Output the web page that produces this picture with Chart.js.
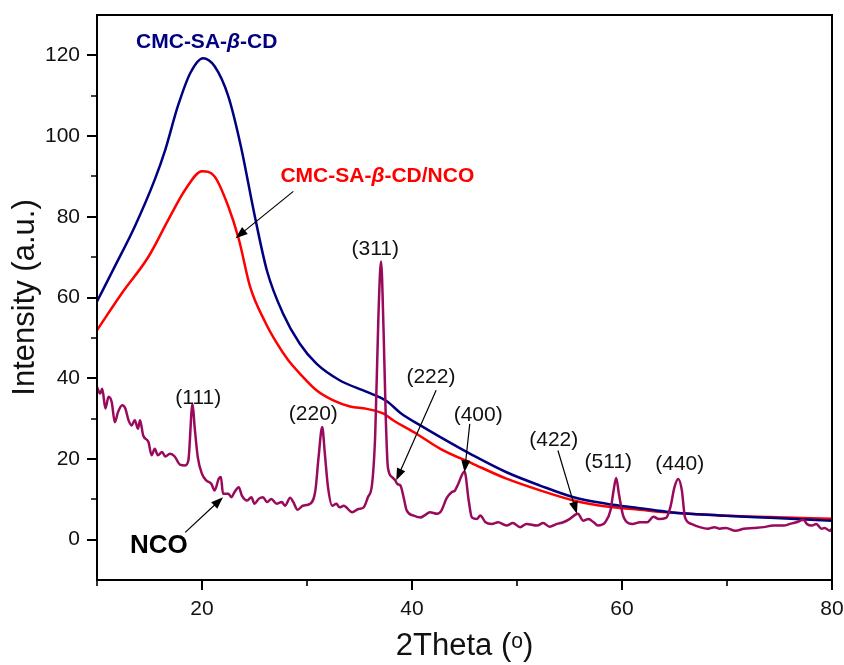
<!DOCTYPE html>
<html>
<head>
<meta charset="utf-8">
<script src="https://cdn.jsdelivr.net/npm/chart.js@4.4.0/dist/chart.umd.min.js"></script>
<style>
    html, body { margin: 0; padding: 0; background: #fff; }
    #wrap { width: 844px; height: 665px; }
</style>
</head>
<body>
<div id="wrap"><canvas id="xrdChart" width="844" height="665"></canvas></div>
<script>
// XRD patterns (2Theta in degrees, intensity in a.u.)
const blueTheta = [10, 11.7, 13.6, 15.5, 16.5, 17.7, 18.9, 20.1, 21.2, 22.5, 23.7, 25.0, 26.2, 27.7, 29.3, 30.9, 33.1, 35.7, 37.6, 38.9, 40.8, 42.7, 45.8, 49.0, 52.2, 55.4, 58.5, 61.7, 64.6, 69.3, 74.1, 80];
const blueIntensity = [59.0, 67.7, 77.6, 89.2, 96.6, 107.4, 115.7, 119.3, 117.3, 109.9, 97.5, 80.5, 66.5, 56.1, 48.6, 43.6, 39.5, 36.6, 34.3, 31.4, 28.3, 25.4, 20.9, 16.7, 13.4, 10.5, 8.9, 7.8, 6.8, 6.0, 5.4, 4.7];

const redTheta = [10, 12.35, 14.9, 16.8, 18.4, 20.0, 21.2, 22.5, 23.5, 24.6, 26.0, 27.1, 28.2, 29.3, 30.9, 32.5, 34.1, 35.7, 37.3, 38.2, 40.4, 42.7, 45.8, 49.0, 52.2, 55.4, 58.5, 61.7, 64.6, 69.3, 74.1, 80];
const redIntensity = [51.9, 61.0, 70.1, 79.3, 86.7, 91.3, 90.0, 82.6, 74.5, 62.5, 54.0, 48.8, 44.5, 41.2, 37.0, 34.5, 33.0, 32.4, 31.2, 29.6, 26.3, 22.5, 18.8, 15.1, 12.2, 9.7, 8.2, 7.4, 6.7, 6.0, 5.6, 5.2];

const ncoTheta = [10.0, 10.3, 10.5, 10.8, 11.1, 11.4, 11.7, 12.0, 12.4, 12.7, 13.0, 13.3, 13.6, 13.9, 14.1, 14.4, 14.9, 15.2, 15.5, 15.8, 16.2, 16.5, 16.95, 17.4, 17.9, 18.4, 18.7, 19.1, 19.3, 19.6, 20.0, 20.4, 20.9, 21.2, 21.6, 21.8, 22.0, 22.5, 22.8, 23.1, 23.5, 23.8, 24.3, 24.7, 25.0, 25.4, 25.8, 26.2, 26.6, 27.1, 27.6, 27.9, 28.4, 28.7, 29.1, 29.6, 30.3, 30.8, 31.1, 31.45, 31.7, 32.0, 32.4, 32.8, 33.1, 33.5, 34.3, 34.9, 35.4, 35.8, 36.2, 36.5, 36.8, 37.05, 37.3, 37.5, 37.7, 38.1, 38.4, 38.6, 38.9, 39.2, 39.5, 40.1, 40.8, 41.2, 41.7, 42.4, 42.8, 43.3, 43.8, 44.1, 44.4, 45.0, 45.4, 45.7, 46.2, 46.5, 47.0, 47.6, 48.2, 49.0, 49.6, 50.3, 50.9, 51.9, 52.5, 53.1, 53.8, 54.4, 55.0, 55.8, 56.3, 56.8, 57.3, 57.7, 58.4, 58.9, 59.2, 59.45, 59.7, 60.1, 60.4, 61.0, 61.7, 62.4, 63.0, 63.5, 64.2, 64.6, 65.0, 65.35, 65.7, 66.0, 66.6, 67.4, 68.2, 68.8, 69.3, 69.9, 70.8, 71.6, 72.5, 73.5, 74.4, 75.4, 76.0, 76.6, 77.3, 77.6, 78.1, 78.5, 79.0, 79.3, 79.8, 80.0];
const ncoIntensity = [37.8, 36.2, 37.4, 32.5, 35.4, 34.1, 29.1, 31.6, 33.3, 32.5, 29.6, 28.3, 29.6, 27.5, 29.6, 25.8, 24.2, 20.9, 22.5, 20.9, 21.7, 20.6, 21.3, 20.6, 18.6, 18.4, 19.6, 33.7, 27.9, 20.4, 16.3, 14.7, 13.8, 12.2, 15.1, 15.5, 11.4, 11.4, 10.5, 11.8, 13.0, 10.9, 9.7, 10.5, 8.9, 10.1, 10.5, 9.3, 10.1, 8.9, 9.3, 8.4, 10.4, 9.3, 7.4, 8.4, 8.9, 12.2, 20.4, 27.9, 21.3, 13.0, 8.4, 8.9, 8.0, 8.4, 6.8, 7.6, 8.0, 10.5, 13.8, 26.3, 55.2, 68.9, 51.1, 30.4, 18.0, 15.5, 14.7, 13.8, 13.4, 10.5, 7.2, 6.0, 5.5, 6.0, 6.8, 6.4, 7.2, 10.3, 11.8, 12.2, 13.8, 16.9, 9.7, 5.5, 5.1, 6.0, 4.3, 3.9, 4.3, 3.5, 4.1, 3.1, 3.9, 3.5, 4.1, 3.2, 3.9, 4.3, 5.1, 6.4, 4.7, 5.1, 4.3, 3.5, 4.3, 7.2, 12.2, 15.3, 11.4, 6.0, 4.5, 3.9, 4.3, 4.3, 5.7, 5.1, 5.4, 8.0, 13.0, 15.0, 12.2, 5.5, 3.9, 3.1, 2.7, 3.1, 2.7, 2.9, 2.2, 2.7, 2.9, 3.1, 3.5, 3.5, 3.9, 4.3, 4.9, 3.9, 3.5, 3.9, 2.7, 2.9, 2.2, 2.7];

// axis ticks
const xMajorTicks = [20, 40, 60, 80];
const xMinorTicks = [10, 30, 50, 70];
const yMajorTicks = [0, 20, 40, 60, 80, 100, 120];
const yMinorTicks = [10, 30, 50, 70, 90, 110];

// peak (hkl) labels, centred at these data positions
const peakLabels = ['(111)', '(220)', '(311)', '(222)', '(400)', '(422)', '(511)', '(440)'];
const peakLabelX = [19.65, 30.6, 36.5, 41.8, 46.3, 53.5, 58.7, 65.5];
const peakLabelY = [35.0, 31.2, 72.0, 40.3, 30.8, 24.6, 19.2, 18.8];

// arrows [x1, y1, x2, y2], head at the second point
const arrows = [
    [28.7, 86.3, 23.2, 74.7],
    [18.4, 1.8, 22.0, 10.5],
    [42.3, 37.0, 38.5, 14.7],
    [45.5, 28.7, 45.0, 16.7],
    [53.9, 22.1, 55.7, 6.4]
];

const NAVY = '#000080';
const RED = '#ff0000';
const PURPLE = '#990a5c';
const FONT = "'Liberation Sans', Arial, 'DejaVu Sans', sans-serif";

function toPoints(xs, ys) {
    return xs.map((x, i) => ({ x: x, y: ys[i] }));
}

// draw text made of pieces, some in italic, centred at (cx, cy)
function richText(ctx, pieces, cx, cy, size, color) {
    ctx.save();
    ctx.fillStyle = color;
    ctx.textBaseline = 'middle';
    ctx.textAlign = 'left';
    let total = 0;
    pieces.forEach(p => {
        ctx.font = (p.italic ? 'italic ' : '') + 'bold ' + size + 'px ' + FONT;
        p.w = ctx.measureText(p.t).width;
        total += p.w;
    });
    let x = cx - total / 2;
    pieces.forEach(p => {
        ctx.font = (p.italic ? 'italic ' : '') + 'bold ' + size + 'px ' + FONT;
        ctx.fillText(p.t, x, cy);
        x += p.w;
    });
    ctx.restore();
}

function drawArrow(ctx, x1, y1, x2, y2) {
    const ang = Math.atan2(y2 - y1, x2 - x1);
    const len = 12, half = 4.5;
    ctx.save();
    ctx.strokeStyle = '#000';
    ctx.fillStyle = '#000';
    ctx.lineWidth = 1.2;
    ctx.beginPath();
    ctx.moveTo(x1, y1);
    ctx.lineTo(x2 - Math.cos(ang) * len * 0.8, y2 - Math.sin(ang) * len * 0.8);
    ctx.stroke();
    ctx.beginPath();
    ctx.moveTo(x2, y2);
    ctx.lineTo(x2 - len * Math.cos(ang) + half * Math.sin(ang), y2 - len * Math.sin(ang) - half * Math.cos(ang));
    ctx.lineTo(x2 - len * Math.cos(ang) - half * Math.sin(ang), y2 - len * Math.sin(ang) + half * Math.cos(ang));
    ctx.closePath();
    ctx.fill();
    ctx.restore();
}

// frame, minor ticks and annotations
const decorations = {
    id: 'decorations',
    afterDraw(chart) {
        const ctx = chart.ctx;
        const xs = chart.scales.x, ys = chart.scales.y;
        const a = chart.chartArea;

        ctx.save();
        ctx.strokeStyle = '#000';
        ctx.lineWidth = 2;
        ctx.strokeRect(a.left, a.top, a.right - a.left, a.bottom - a.top);

        ctx.lineWidth = 1.6;
        ctx.beginPath();
        xMinorTicks.forEach(v => {
            const px = Math.round(xs.getPixelForValue(v));
            ctx.moveTo(px, a.bottom);
            ctx.lineTo(px, a.bottom + 6);
        });
        yMinorTicks.forEach(v => {
            const py = Math.round(ys.getPixelForValue(v));
            ctx.moveTo(a.left, py);
            ctx.lineTo(a.left - 6, py);
        });
        ctx.stroke();

        ctx.fillStyle = '#111';
        ctx.font = '21px ' + FONT;
        ctx.textAlign = 'center';
        ctx.textBaseline = 'middle';
        peakLabels.forEach((t, i) => {
            ctx.fillText(t, xs.getPixelForValue(peakLabelX[i]), ys.getPixelForValue(peakLabelY[i]));
        });
        ctx.restore();

        arrows.forEach(r => {
            drawArrow(ctx, xs.getPixelForValue(r[0]), ys.getPixelForValue(r[1]),
                xs.getPixelForValue(r[2]), ys.getPixelForValue(r[3]));
        });

        richText(ctx, [{ t: 'CMC-SA-' }, { t: 'β', italic: true }, { t: '-CD' }],
            xs.getPixelForValue(20.45), ys.getPixelForValue(123.2), 21, NAVY);
        richText(ctx, [{ t: 'CMC-SA-' }, { t: 'β', italic: true }, { t: '-CD/NCO' }],
            xs.getPixelForValue(36.7), ys.getPixelForValue(90.0), 21, RED);
        richText(ctx, [{ t: 'NCO' }],
            xs.getPixelForValue(15.9), ys.getPixelForValue(-1.5), 26, '#000');
    }
};

const ctx = document.getElementById('xrdChart').getContext('2d');
const xrdChart = new Chart(ctx, {
    type: 'line',
    data: {
        datasets: [
            {
                label: 'NCO',
                data: toPoints(ncoTheta, ncoIntensity),
                borderColor: PURPLE,
                borderWidth: 2.5,
                pointRadius: 0,
                cubicInterpolationMode: 'monotone'
            },
            {
                label: 'CMC-SA-β-CD',
                data: toPoints(blueTheta, blueIntensity),
                borderColor: NAVY,
                borderWidth: 2.5,
                pointRadius: 0,
                cubicInterpolationMode: 'monotone'
            },
            {
                label: 'CMC-SA-β-CD/NCO',
                data: toPoints(redTheta, redIntensity),
                borderColor: RED,
                borderWidth: 2.5,
                pointRadius: 0,
                cubicInterpolationMode: 'monotone'
            }
        ]
    },
    options: {
        responsive: false,
        animation: false,
        devicePixelRatio: 1,
        layout: { padding: { top: 15, right: 12, left: 0, bottom: 0 } },
        plugins: {
            legend: { display: false },
            tooltip: { enabled: false }
        },
        scales: {
            x: {
                type: 'linear',
                min: 10,
                max: 80,
                afterBuildTicks: (scale) => { scale.ticks = xMajorTicks.map(v => ({ value: v })); },
                afterFit: (scale) => {
                    scale.height = 85;
                    scale.paddingLeft = 0;
                    scale.paddingRight = 0;
                },
                grid: { drawOnChartArea: false, drawTicks: true, tickLength: 10, color: '#000', lineWidth: 2 },
                border: { display: true, color: '#000', width: 2 },
                ticks: { color: '#111', padding: 7, maxRotation: 0, font: { family: FONT, size: 21 } },
                title: {
                    display: true,
                    text: '2Theta (ᵒ)',
                    color: '#111',
                    font: { family: FONT, size: 31 },
                    padding: { top: 0, bottom: 0 }
                }
            },
            y: {
                type: 'linear',
                min: -10,
                max: 130,
                afterBuildTicks: (scale) => { scale.ticks = yMajorTicks.map(v => ({ value: v })); },
                afterFit: (scale) => {
                    scale.width = 97;
                    scale.paddingTop = 0;
                    scale.paddingBottom = 0;
                },
                grid: { drawOnChartArea: false, drawTicks: true, tickLength: 10, color: '#000', lineWidth: 2 },
                border: { display: true, color: '#000', width: 2 },
                ticks: { color: '#111', padding: 7, font: { family: FONT, size: 21 } },
                title: {
                    display: true,
                    text: 'Intensity (a.u.)',
                    color: '#111',
                    font: { family: FONT, size: 31 },
                    padding: { top: 7, bottom: 0 }
                }
            }
        }
    },
    plugins: [decorations]
});
</script>
</body>
</html>
